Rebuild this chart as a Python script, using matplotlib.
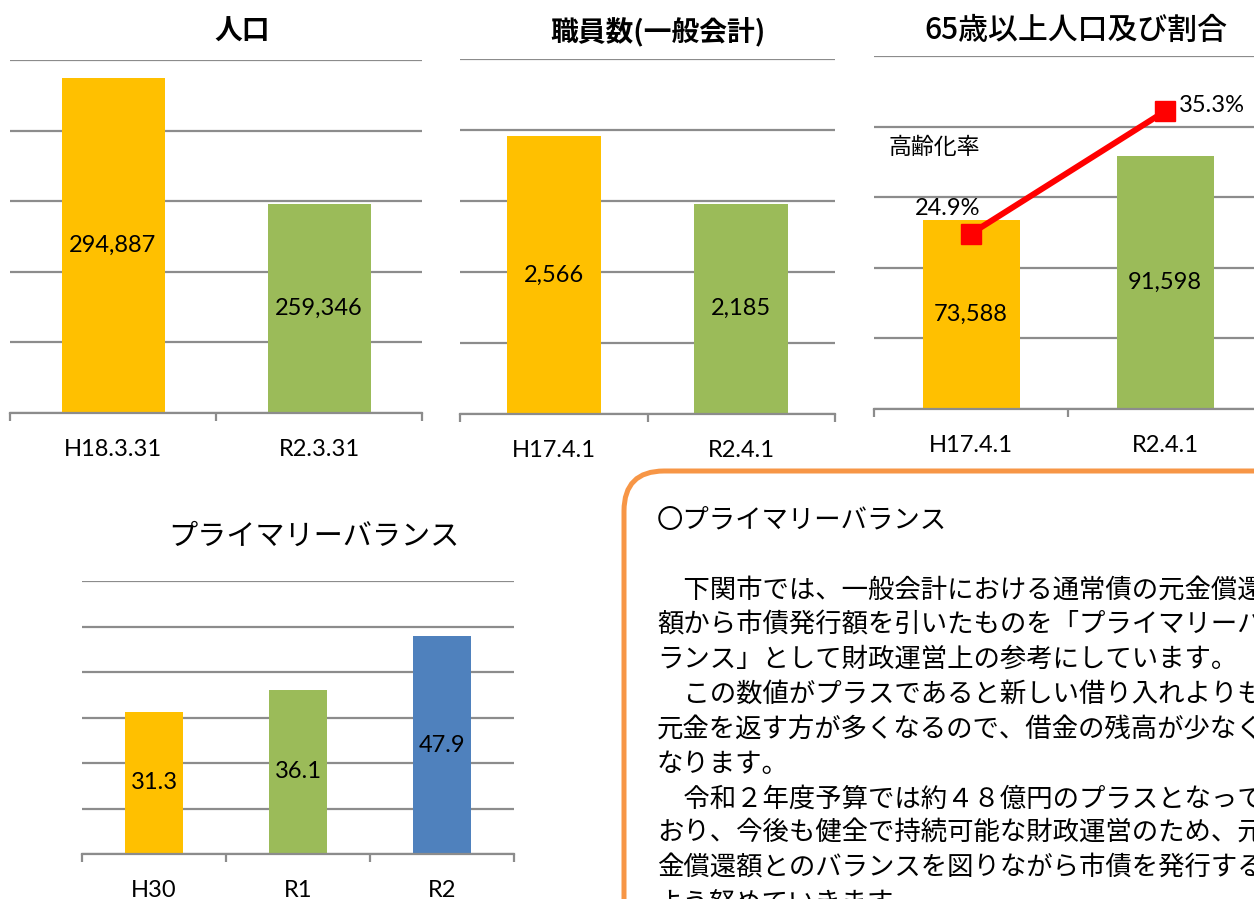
import numpy as np
import matplotlib
matplotlib.use("Agg")
import matplotlib.pyplot as plt
from matplotlib.patches import FancyBboxPatch

plt.rcParams['font.family'] = ['Lato', 'Noto Sans CJK JP', 'DejaVu Sans']
JP = ['Noto Sans CJK JP', 'DejaVu Sans']

# data
pop_labels = ['H18.3.31', 'R2.3.31']
pop_values = [294887, 259346]

staff_labels = ['H17.4.1', 'R2.4.1']
staff_values = [2566, 2185]

elderly_labels = ['H17.4.1', 'R2.4.1']
elderly_values = [73588, 91598]
elderly_rate = [24.9, 35.3]

pb_labels = ['H30', 'R1', 'R2']
pb_values = [31.3, 36.1, 47.9]

note_title = '〇プライマリーバランス'
note_lines = [
    '\u3000下関市では、一般会計における通常債の元金償還',
    '額から市債発行額を引いたものを「プライマリーバ',
    'ランス」として財政運営上の参考にしています。',
    '\u3000この数値がプラスであると新しい借り入れよりも',
    '元金を返す方が多くなるので、借金の残高が少なく',
    'なります。',
    '\u3000令和２年度予算では約４８億円のプラスとなって',
    'おり、今後も健全で持続可能な財政運営のため、元',
    '金償還額とのバランスを図りながら市債を発行する',
    'よう努めていきます。',
]

YELLOW = '#FFC000'
GREEN = '#9BBB59'
BLUE = '#4F81BD'
GRID = '#8C8C8C'
LABEL_SIZE = 17

W, H = 1254, 899
fig = plt.figure(figsize=(W / 100, H / 100), dpi=100)


def px_rect(x0, y0, x1, y1):
    return [x0 / W, 1 - y1 / H, (x1 - x0) / W, (y1 - y0) / H]


def bar_panel(rect, labels, values, colors, lo, hi, step, width, fmt):
    ax = fig.add_axes(rect)
    x = np.arange(len(labels))
    ax.bar(x, values, width=width, color=colors, zorder=2)
    ax.set_xlim(-0.5, len(labels) - 0.5)
    ax.set_ylim(lo, hi)
    ax.set_yticks(np.arange(lo, hi + step / 2, step))
    ax.yaxis.grid(True, color=GRID, lw=1.6)
    ax.tick_params(axis='y', length=0, labelleft=False)
    for s in ['top', 'right', 'left']:
        ax.spines[s].set_visible(False)
    ax.spines['bottom'].set_color(GRID)
    ax.spines['bottom'].set_linewidth(1.6)
    # category boundary ticks, labels sit between them
    ax.set_xticks(np.arange(len(labels) + 1) - 0.5)
    ax.set_xticklabels([])
    ax.tick_params(axis='x', which='major', direction='out', length=5.5,
                   width=1.6, color=GRID)
    ax.set_xticks(x, minor=True)
    ax.set_xticklabels(labels, minor=True, fontsize=LABEL_SIZE)
    ax.tick_params(axis='x', which='minor', length=0, pad=18.5)
    for xi, v in zip(x, values):
        ax.text(xi, (max(lo, 0) + v) / 2, fmt(v), ha='center', va='center',
                fontsize=LABEL_SIZE, zorder=3)
    return ax


comma = lambda v: f'{v:,.0f}'

bar_panel(px_rect(10, 60, 422, 413), pop_labels, pop_values, [YELLOW, GREEN],
          200000, 300000, 20000, 0.5, comma)
bar_panel(px_rect(460, 59, 835, 414), staff_labels, staff_values, [YELLOW, GREEN],
          1000, 3000, 400, 0.5, comma)
ax3 = bar_panel(px_rect(874, 56, 1262, 409), elderly_labels, elderly_values,
                [YELLOW, GREEN], 20000, 120000, 20000, 0.5, comma)
bar_panel(px_rect(82, 581, 514, 854), pb_labels, pb_values, [YELLOW, GREEN, BLUE],
          0, 60, 10, 0.4, lambda v: f'{v:.1f}')

# aging rate line on a hidden secondary axis
ax3b = ax3.twinx()
ax3b.set_ylim(10, 40)
ax3b.plot(np.arange(2), elderly_rate, color='#FF0000', lw=4.3, marker='s',
          ms=14, zorder=4)
ax3b.axis('off')
ax3b.annotate(f'{elderly_rate[0]}%', (0, elderly_rate[0]), xytext=(-17, 18),
              textcoords='offset points', ha='center', va='center',
              fontsize=LABEL_SIZE)
ax3b.annotate(f'{elderly_rate[1]}%', (1, elderly_rate[1]), xytext=(34, 4),
              textcoords='offset points', ha='center', va='center',
              fontsize=LABEL_SIZE)
fig.text(889 / W, 1 - 147 / H, '高齢化率', family=JP, fontsize=16.5,
         ha='left', va='center')

# panel titles
titles = [
    (242, 32, '人口', 20, 'bold'),
    (658, 33, '職員数(一般会計)', 20, 'bold'),
    (1076, 30, '65歳以上人口及び割合', 21.5, 'medium'),
    (314, 537, 'プライマリーバランス', 21, 'normal'),
]
for tx, ty, t, sz, wt in titles:
    fig.text(tx / W, 1 - ty / H, t, family=JP, fontsize=sz, fontweight=wt,
             ha='center', va='center')

# note box, running off the right and bottom edges
box = FancyBboxPatch((6.24, -3), 10, 4.28 + 3,
                     boxstyle='round,pad=0,rounding_size=0.4',
                     transform=fig.dpi_scale_trans, fc='none',
                     ec='#F79646', lw=3.6)
fig.add_artist(box)
fig.text(657 / W, 1 - 521 / H, note_title, family=JP, fontsize=19,
         ha='left', va='center')
for k, line in enumerate(note_lines):
    fig.text(657 / W, 1 - (590 + 34.8 * k) / H, line, family=JP, fontsize=19,
             ha='left', va='center')

fig.savefig('out.png', dpi=100)
